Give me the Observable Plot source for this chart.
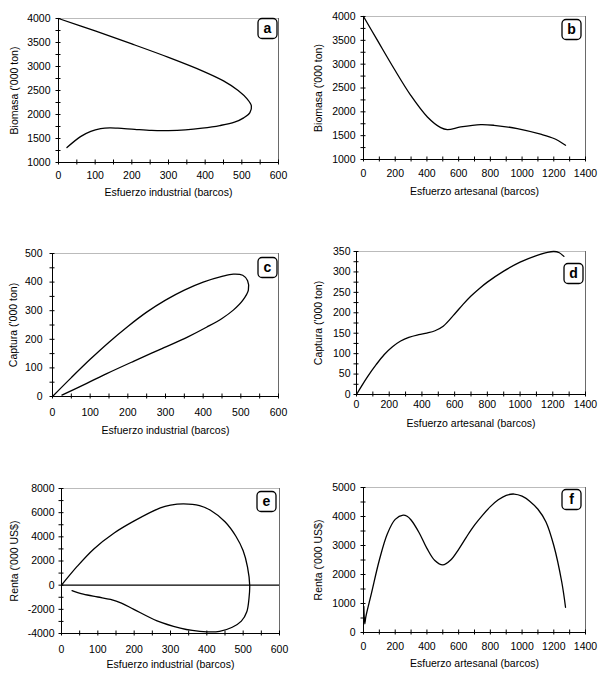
<!DOCTYPE html>
<html><head><meta charset="utf-8">
<script src="https://cdn.jsdelivr.net/npm/d3@7"></script>
<script src="https://cdn.jsdelivr.net/npm/@observablehq/plot@0.6"></script>
<style>
body{margin:0;background:#fff;}
#wrap{position:relative;width:600px;height:682px;background:#fff;font-family:"Liberation Sans",Arial,sans-serif;}
#wrap svg{position:absolute;}
</style></head><body><div id="wrap"></div>
<script>
// Panel a: industrial effort vs biomass
const aEffort  = [0, 100, 200, 300, 392, 450, 490, 515, 526, 522, 505, 480, 440, 392, 346, 300, 254, 208, 162, 140, 115, 88, 60, 23];
const aBiomass = [4000, 3740, 3470, 3190, 2910, 2700, 2500, 2320, 2180, 2040, 1930, 1840, 1770, 1715, 1680, 1665, 1668, 1690, 1715, 1722, 1705, 1650, 1540, 1313];
// Panel b: artisanal effort vs biomass
const bEffort  = [0, 88, 193, 298, 403, 487, 529, 613, 739, 823, 970, 1117, 1201, 1274];
const bBiomass = [4000, 3498, 2904, 2346, 1893, 1669, 1628, 1683, 1732, 1718, 1648, 1530, 1440, 1300];
// Panel c: industrial effort vs catch
const cEffort = [0, 50, 100, 150, 200, 250, 300, 350, 400, 450, 480, 505, 518, 520, 505, 480, 450, 410, 357, 286, 215, 144, 91, 25];
const cCatch  = [0, 66, 130, 190, 245, 295, 337, 372, 400, 420, 428, 424, 405, 372, 336, 302, 273, 243, 207, 165, 123, 80, 46, 5];
// Panel d: artisanal effort vs catch
const dEffort = [0, 30, 70, 120, 170, 220, 270, 320, 380, 430, 480, 530, 600, 650, 700, 750, 800, 900, 1000, 1100, 1160, 1206, 1240, 1268];
const dCatch  = [0, 20, 45, 73, 98, 117, 131, 140, 146.5, 150.5, 156, 167, 197, 220, 241, 259, 275, 302, 324, 340, 347, 350, 347, 338];
// Panel e: industrial effort vs rent
const eEffort = [0, 43, 89, 144, 199, 272, 300, 336, 380, 410, 450, 480, 500, 512, 518, 516, 510, 495, 470, 435, 400, 360, 327, 263, 199, 165, 135, 100, 60, 29];
const eRent   = [0, 1550, 3000, 4300, 5300, 6400, 6620, 6720, 6580, 6200, 5250, 4050, 2850, 1500, 0, -1100, -2200, -2980, -3480, -3820, -3860, -3750, -3550, -2950, -2000, -1480, -1180, -980, -750, -450];
// Panel f: artisanal effort vs rent
const fEffort = [2, 8, 15, 50, 100, 150, 200, 250, 275, 300, 350, 400, 450, 500, 550, 600, 650, 700, 750, 800, 850, 900, 950, 1000, 1050, 1100, 1150, 1200, 1250, 1274];
const fRent   = [900, 300, 550, 1350, 2500, 3400, 3900, 4050, 4010, 3880, 3450, 2900, 2480, 2330, 2500, 2870, 3300, 3700, 4040, 4340, 4575, 4730, 4775, 4700, 4520, 4250, 3820, 3000, 1750, 870];

const ticksIndustrial = [0, 100, 200, 300, 400, 500, 600];
const ticksArtisanal  = [0, 200, 400, 600, 800, 1000, 1200, 1400];
const ticksBiomass = [1000, 1500, 2000, 2500, 3000, 3500, 4000];
const ticksCatchC  = [0, 100, 200, 300, 400, 500];
const ticksCatchD  = [0, 50, 100, 150, 200, 250, 300, 350];
const ticksRentE   = [-4000, -2000, 0, 2000, 4000, 6000, 8000];
const ticksRentF   = [0, 1000, 2000, 3000, 4000, 5000];

const labIndustrial = "Esfuerzo industrial (barcos)";
const labArtisanal  = "Esfuerzo artesanal (barcos)";
const labBiomass = "Biomasa ('000 ton)";
const labCatch   = "Captura ('000 ton)";
const labRent    = "Renta ('000 US$)";

function halfSteps(t) {
  const out = [];
  for (let i = 0; i < t.length; i++) {
    out.push(t[i]);
    if (i < t.length - 1) out.push((t[i] + t[i + 1]) / 2);
  }
  return out;
}

function roundedBox(w, h, r) {
  return {
    draw(ctx) {
      const x0 = -w / 2, y0 = -h / 2, x1 = w / 2, y1 = h / 2;
      ctx.moveTo(x0 + r, y0);
      ctx.lineTo(x1 - r, y0); ctx.arcTo(x1, y0, x1, y0 + r, r);
      ctx.lineTo(x1, y1 - r); ctx.arcTo(x1, y1, x1 - r, y1, r);
      ctx.lineTo(x0 + r, y1); ctx.arcTo(x0, y1, x0, y1 - r, r);
      ctx.lineTo(x0, y0 + r); ctx.arcTo(x0, y0, x0 + r, y0, r);
      ctx.closePath();
    }
  };
}

function panel(p) {
  const data = p.xs.map((x, i) => ({x, y: p.ys[i]}));
  const xMin = p.xt[0], xMax = p.xt[p.xt.length - 1];
  const yMin = p.yt[0], yMax = p.yt[p.yt.length - 1];
  const marks = [
    Plot.ruleY([yMax], {stroke: "#aaa", strokeWidth: 0.8}),
    Plot.ruleX([xMax], {stroke: "#444", strokeWidth: 0.8}),
    Plot.ruleX([xMin], {stroke: "black", strokeWidth: 1}),
    Plot.ruleY([yMin], {stroke: "black", strokeWidth: 1}),
    Plot.ruleX(halfSteps(p.xt), {x: d => d, y1: yMin, y2: yMin, insetTop: -2.5, insetBottom: -2.5, stroke: "black"}),
    Plot.ruleY(halfSteps(p.yt), {y: d => d, x1: xMin, x2: xMin, insetLeft: -2.5, insetRight: -2.5, stroke: "black"}),
    Plot.axisX({ticks: p.xt, tickSize: 0, tickPadding: p.xPad, label: null, tickFormat: d => String(d)}),
    Plot.axisY({ticks: p.yt, tickSize: 0, tickPadding: p.yPad, label: null, tickFormat: d => String(d)}),
  ];
  if (p.zero) marks.push(Plot.ruleY([0], {stroke: "black", strokeWidth: 1.2}));
  marks.push(
    Plot.line(data, {x: "x", y: "y", curve: "catmull-rom", stroke: "black", strokeWidth: 1.3}),
    Plot.text([p.xLabel], {text: d => d, frameAnchor: "bottom", dy: p.xLabOff, lineAnchor: "middle", fontSize: 10.5}),
    Plot.text([p.yLabel], {text: d => d, frameAnchor: "left", dx: p.yLabOff, rotate: -90, textAnchor: "middle", lineAnchor: "middle", fontSize: 10.5}),
    Plot.dot([p.letter], {frameAnchor: "top-right", dx: p.bx, dy: p.by, symbol: roundedBox(19, 20, 4), fill: "white", stroke: "black", strokeWidth: 1.3}),
    Plot.text([p.letter], {text: d => d, frameAnchor: "top-right", dx: p.bx, dy: p.by + 0.5, textAnchor: "middle", lineAnchor: "middle", fontSize: 14, fontWeight: "bold"})
  );
  const chart = Plot.plot({
    width: 300,
    height: p.h,
    marginLeft: p.mL, marginRight: p.mR, marginTop: p.mT, marginBottom: p.mB,
    x: {domain: [xMin, xMax]},
    y: {domain: [yMin, yMax]},
    style: {fontFamily: "'Liberation Sans', Arial, sans-serif", fontSize: "10.5px", color: "black", background: "transparent"},
    marks
  });
  chart.style.left = p.left + "px";
  chart.style.top = p.top + "px";
  document.getElementById("wrap").appendChild(chart);
}

panel({letter: "a", xs: aEffort, ys: aBiomass, xt: ticksIndustrial, yt: ticksBiomass, xLabel: labIndustrial, yLabel: labBiomass,
  left: 0, top: 0, h: 215, mL: 58, mR: 22, mT: 18, mB: 53, xPad: 9, yPad: 8, xLabOff: 30, yLabOff: -44, bx: -11, by: 10});
panel({letter: "b", xs: bEffort, ys: bBiomass, xt: ticksArtisanal, yt: ticksBiomass, xLabel: labArtisanal, yLabel: labBiomass,
  left: 300, top: 0, h: 215, mL: 63, mR: 15, mT: 16, mB: 56, xPad: 10, yPad: 8, xLabOff: 32, yLabOff: -45, bx: -14, by: 13});
panel({letter: "c", xs: cEffort, ys: cCatch, xt: ticksIndustrial, yt: ticksCatchC, xLabel: labIndustrial, yLabel: labCatch,
  left: 0, top: 230, h: 215, mL: 52, mR: 22, mT: 23, mB: 49, xPad: 12, yPad: 10, xLabOff: 34, yLabOff: -39, bx: -11, by: 14});
panel({letter: "d", xs: dEffort, ys: dCatch, xt: ticksArtisanal, yt: ticksCatchD, xLabel: labArtisanal, yLabel: labCatch,
  left: 300, top: 230, h: 215, mL: 56, mR: 15, mT: 21, mB: 51, xPad: 6, yPad: 6, xLabOff: 29, yLabOff: -38, bx: -12, by: 22});
panel({letter: "e", xs: eEffort, ys: eRent, xt: ticksIndustrial, yt: ticksRentE, xLabel: labIndustrial, yLabel: labRent, zero: true,
  left: 0, top: 470, h: 212, mL: 61, mR: 21, mT: 18, mB: 49, xPad: 12, yPad: 7, xLabOff: 31, yLabOff: -47, bx: -13, by: 13});
panel({letter: "f", xs: fEffort, ys: fRent, xt: ticksArtisanal, yt: ticksRentF, xLabel: labArtisanal, yLabel: labRent,
  left: 300, top: 470, h: 212, mL: 63, mR: 15, mT: 17, mB: 50, xPad: 10, yPad: 8, xLabOff: 31, yLabOff: -45, bx: -14, by: 12});
</script></body></html>
